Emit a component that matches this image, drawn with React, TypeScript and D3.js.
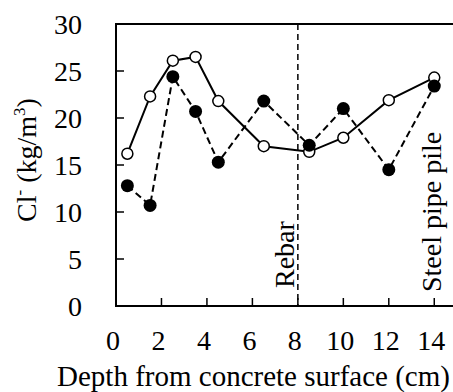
import React from "react";
import * as d3 from "d3";

const depthsOpen = [0.5, 1.5, 2.5, 3.5, 4.5, 6.5, 8.5, 10, 12, 14];
const valuesOpen = [16.2, 22.3, 26.1, 26.5, 21.8, 17.0, 16.4, 17.9, 21.9, 24.3];
const depthsFilled = [0.5, 1.5, 2.5, 3.5, 4.5, 6.5, 8.5, 10, 12, 14];
const valuesFilled = [12.8, 10.7, 24.4, 20.7, 15.3, 21.8, 17.1, 21.0, 14.5, 23.4];
const xTicks = [0, 2, 4, 6, 8, 10, 12, 14];
const yTicks = [0, 5, 10, 15, 20, 25, 30];
const rebarDepth = [8];
const annotations = ["Rebar", "Steel pipe pile"];

const W = 453;
const H = 392;
const left = 116;
const top = 24;
const bottom = 306;
const right = 457;

const FONT = '"Liberation Serif", "DejaVu Serif", serif';

export default function App() {
  const x = d3.scaleLinear().domain([0, 15]).range([left, right]);
  const y = d3.scaleLinear().domain([0, 30]).range([bottom, top]);
  const openPts: [number, number][] = depthsOpen.map((d, i) => [d, valuesOpen[i]]);
  const filledPts: [number, number][] = depthsFilled.map((d, i) => [d, valuesFilled[i]]);
  const line = d3
    .line<[number, number]>()
    .x((d) => x(d[0]))
    .y((d) => y(d[1]));
  const ts = { fontFamily: FONT, fontSize: 28 } as React.CSSProperties;
  return (
    <svg
      width={W}
      height={H}
      style={{ position: "absolute", left: 0, top: 0, background: "#fff", fontFamily: FONT }}
    >
      <line x1={left} x2={right} y1={top} y2={top} stroke="#000" strokeWidth={2} />
      <line x1={left} x2={left} y1={top - 1} y2={bottom + 1} stroke="#000" strokeWidth={2} />
      <line x1={left - 1} x2={right} y1={bottom} y2={bottom} stroke="#000" strokeWidth={2} />
      {yTicks.map((t) => (
        <g key={"y" + t}>
          {t > 0 && t < 30 && (
            <line x1={left} x2={left + 8} y1={y(t)} y2={y(t)} stroke="#000" strokeWidth={1.5} />
          )}
          <text x={82} y={y(t)} dy="0.34em" textAnchor="end" style={ts}>
            {t}
          </text>
        </g>
      ))}
      {xTicks.map((t) => (
        <g key={"x" + t}>
          {t > 0 && (
            <line x1={x(t)} x2={x(t)} y1={bottom} y2={bottom - 8} stroke="#000" strokeWidth={1.5} />
          )}
          <text x={x(t) - 3} y={350} textAnchor="middle" style={ts}>
            {t}
          </text>
        </g>
      ))}
      {rebarDepth.map((r) => (
        <line
          key={"r" + r}
          x1={x(r)}
          x2={x(r)}
          y1={top}
          y2={bottom}
          stroke="#000"
          strokeWidth={1.5}
          strokeDasharray="6,4"
        />
      ))}
      <text transform={`translate(${x(8) - 4},288) rotate(-90)`} textAnchor="start" style={ts}>
        {annotations[0]}
      </text>
      <text transform={`translate(441,292) rotate(-90)`} textAnchor="start" style={ts}>
        {annotations[1]}
      </text>
      <path d={line(filledPts) || ""} fill="none" stroke="#000" strokeWidth={2} strokeDasharray="7,4" />
      <path d={line(openPts) || ""} fill="none" stroke="#000" strokeWidth={2} />
      {openPts.map((p, i) => (
        <circle key={"o" + i} cx={x(p[0])} cy={y(p[1])} r={5.5} fill="#fff" stroke="#000" strokeWidth={1.5} />
      ))}
      {filledPts.map((p, i) => (
        <circle key={"f" + i} cx={x(p[0])} cy={y(p[1])} r={6.5} fill="#000" />
      ))}
      <text x={(55 + 452) / 2} y={386} textAnchor="middle" style={{ ...ts, fontSize: 29 }}>
        Depth from concrete surface (cm)
      </text>
      <text transform="translate(36,160) rotate(-90)" textAnchor="middle" style={ts}>
        Cl
        <tspan style={{ fontSize: 17 }} dy={-11}>-</tspan>
        <tspan dy={11}> (kg/m</tspan>
        <tspan style={{ fontSize: 17 }} dy={-11}>3</tspan>
        <tspan dy={11}>)</tspan>
      </text>
    </svg>
  );
}
